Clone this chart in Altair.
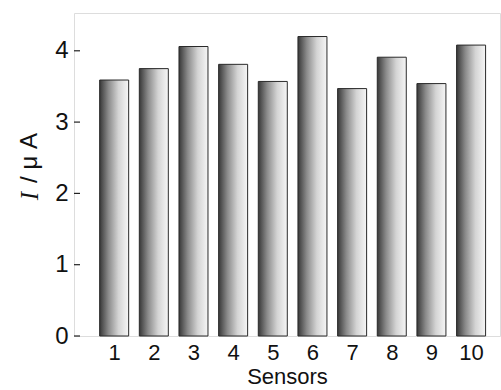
import altair as alt
import pandas as pd

sensors = [1, 2, 3, 4, 5, 6, 7, 8, 9, 10]
current = [3.59, 3.75, 4.06, 3.81, 3.57, 4.20, 3.47, 3.91, 3.54, 4.08]
y_ticks = [0, 1, 2, 3, 4]

df = pd.DataFrame({"Sensor": sensors, "I": current})
ticks_df = pd.DataFrame({"v": y_ticks})

FONT = "Liberation Sans"

xscale = alt.Scale(domain=[0.1135, 10.603], nice=False, zero=False)
yscale = alt.Scale(domain=[0, 4.53], nice=False)

grad = alt.Gradient(
    gradient="linear",
    x1=0, y1=0, x2=1, y2=0,
    stops=[
        alt.GradientStop(color="#383838", offset=0),
        alt.GradientStop(color="#8a8a8a", offset=0.3),
        alt.GradientStop(color="#d4d4d4", offset=0.65),
        alt.GradientStop(color="#f6f6f6", offset=1),
    ],
)

bars = alt.Chart(df).mark_bar(
    fill=grad, stroke="#2a2a2a", strokeWidth=1, size=29
).encode(
    x=alt.X("Sensor:Q", scale=xscale,
            axis=alt.Axis(values=sensors, format="d", title="Sensors",
                          ticks=False, grid=False, domain=False,
                          labelFont=FONT, labelFontSize=22, labelColor="#111",
                          labelPadding=6, titleFont=FONT, titleFontSize=22,
                          titleFontWeight="normal", titleColor="#111",
                          titlePadding=3)),
    y=alt.Y("I:Q", scale=yscale,
            axis=alt.Axis(values=y_ticks, format="d", title=None, ticks=False,
                          grid=False, domain=False, labelFont=FONT,
                          labelFontSize=24, labelColor="#111", labelPadding=6)),
)

tick_marks = alt.Chart(ticks_df).mark_rule(color="#222", strokeWidth=1.2).encode(
    y=alt.Y("v:Q", scale=yscale),
    x=alt.value(0), x2=alt.value(6),
)

t1 = alt.Chart(pd.DataFrame({"t": ["I"]})).mark_text(
    font="Liberation Serif", fontStyle="italic", fontSize=25, angle=270,
    align="center", baseline="middle", color="#111"
).encode(text="t:N", x=alt.value(-44), y=alt.value(183))

t2 = alt.Chart(pd.DataFrame({"t": ["/ μ A"]})).mark_text(
    font=FONT, fontSize=24, angle=270,
    align="center", baseline="middle", color="#111"
).encode(text="t:N", x=alt.value(-44), y=alt.value(145))

chart = alt.layer(bars, tick_marks, t1, t2).properties(
    width=426, height=323,
    autosize=alt.AutoSizeParams(type="none"),
    padding={"left": 74, "top": 13, "right": 1, "bottom": 54},
).configure_view(stroke="#222", strokeWidth=1.5).configure(background="white")

chart.save("out.html", embed_options={"renderer": "svg", "actions": False})
